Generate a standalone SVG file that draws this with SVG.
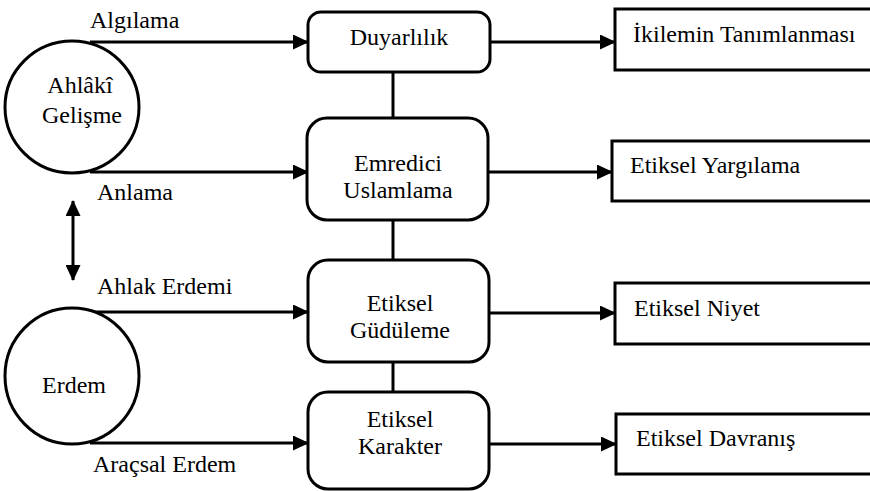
<svg xmlns="http://www.w3.org/2000/svg" width="870" height="491" viewBox="0 0 870 491">
<style>
.s{fill:#fff;stroke:#000;stroke-width:3}
.c{fill:none;stroke:#000;stroke-width:3}
.t{font-family:'Liberation Serif','Times New Roman',Times,'DejaVu Serif',serif;font-size:24px;fill:#000}
.m{text-anchor:middle}
</style>
<defs>
<marker id="ah" markerWidth="16" markerHeight="15" refX="15" refY="7.5" orient="auto-start-reverse" markerUnits="userSpaceOnUse">
<path d="M0,0 L16,7.5 L0,15 Z" fill="#000"/>
</marker>
</defs>
<rect width="870" height="491" fill="#fff"/>
<g id="connectors" font-family="'Liberation Serif','Times New Roman',Times,serif">
<line class="c" x1="90" y1="42" x2="308" y2="42" marker-end="url(#ah)"/>
<line class="c" x1="90" y1="172" x2="308" y2="172" marker-end="url(#ah)"/>
<line class="c" x1="90" y1="312" x2="308" y2="312" marker-end="url(#ah)"/>
<line class="c" x1="90" y1="443" x2="308" y2="443" marker-end="url(#ah)"/>
<line class="c" x1="73" y1="201" x2="73" y2="280" marker-start="url(#ah)" marker-end="url(#ah)"/>
<line class="c" x1="393" y1="72" x2="393" y2="118"/>
<line class="c" x1="393" y1="220" x2="393" y2="260"/>
<line class="c" x1="393" y1="362" x2="393" y2="392"/>
<line class="c" x1="490" y1="42" x2="615" y2="42" marker-end="url(#ah)"/>
<line class="c" x1="488" y1="172" x2="612" y2="172" marker-end="url(#ah)"/>
<line class="c" x1="489" y1="313" x2="615" y2="313" marker-end="url(#ah)"/>
<line class="c" x1="489" y1="444" x2="616" y2="444" marker-end="url(#ah)"/>
<text class="t" x="90" y="28">Algılama</text>
<text class="t" x="97" y="200">Anlama</text>
<text class="t" x="97" y="294">Ahlak Erdemi</text>
<text class="t" x="93" y="472">Araçsal Erdem</text>
</g>
<g id="ahlaki" font-family="'Liberation Serif','Times New Roman',Times,serif">
<ellipse class="s" cx="72" cy="107" rx="67" ry="66"/>
<text class="t m" x="80" y="93">Ahlâkî</text>
<text class="t m" x="82" y="123">Gelişme</text>
</g>
<g id="erdem" font-family="'Liberation Serif','Times New Roman',Times,serif">
<ellipse class="s" cx="72" cy="376" rx="67" ry="68"/>
<text class="t m" x="74" y="393">Erdem</text>
</g>
<g id="duyarlilik" font-family="'Liberation Serif','Times New Roman',Times,serif">
<rect class="s" x="308" y="12" width="182" height="60" rx="13"/>
<text class="t m" x="399" y="45">Duyarlılık</text>
</g>
<g id="emredici" font-family="'Liberation Serif','Times New Roman',Times,serif">
<rect class="s" x="307" y="118" width="181" height="102" rx="20"/>
<text class="t m" x="398" y="171">Emredici</text>
<text class="t m" x="398" y="198">Uslamlama</text>
</g>
<g id="gudulem" font-family="'Liberation Serif','Times New Roman',Times,serif">
<rect class="s" x="308" y="260" width="181" height="102" rx="20"/>
<text class="t m" x="400" y="311">Etiksel</text>
<text class="t m" x="400" y="338">Güdüleme</text>
</g>
<g id="karakter" font-family="'Liberation Serif','Times New Roman',Times,serif">
<rect class="s" x="308" y="392" width="181" height="97" rx="20"/>
<text class="t m" x="400" y="427">Etiksel</text>
<text class="t m" x="400" y="454">Karakter</text>
</g>
<g id="ikilem" font-family="'Liberation Serif','Times New Roman',Times,serif">
<rect class="s" x="615" y="9" width="270" height="61"/>
<text class="t" x="633" y="42">İkilemin Tanımlanması</text>
</g>
<g id="yargilama" font-family="'Liberation Serif','Times New Roman',Times,serif">
<rect class="s" x="612" y="141" width="270" height="60"/>
<text class="t" x="630" y="173">Etiksel Yargılama</text>
</g>
<g id="niyet" font-family="'Liberation Serif','Times New Roman',Times,serif">
<rect class="s" x="615" y="283" width="270" height="61"/>
<text class="t" x="634" y="316">Etiksel Niyet</text>
</g>
<g id="davranis" font-family="'Liberation Serif','Times New Roman',Times,serif">
<rect class="s" x="616" y="414" width="270" height="60"/>
<text class="t" x="636" y="446">Etiksel Davranış</text>
</g>
</svg>
